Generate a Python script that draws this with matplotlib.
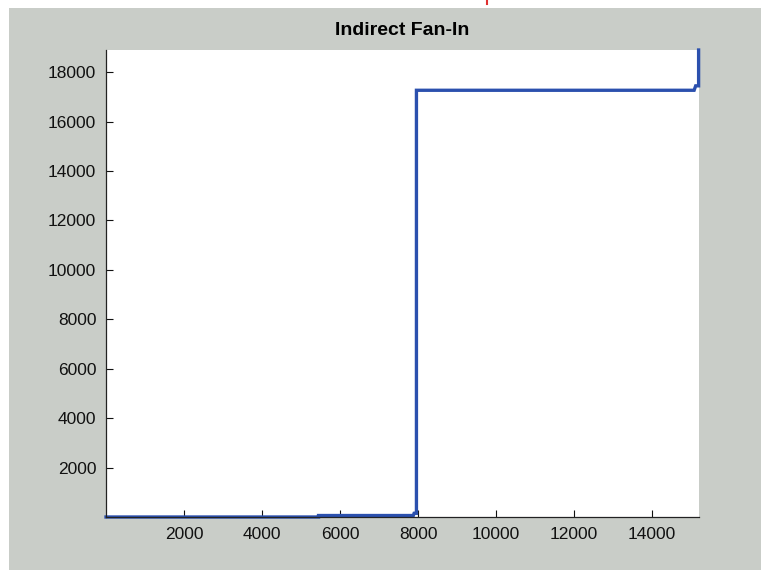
import matplotlib
matplotlib.use("Agg")
import matplotlib.pyplot as plt
from matplotlib.patches import Rectangle
import numpy as np

plt.rcParams['font.family'] = ['Liberation Sans', 'DejaVu Sans']

# Step breakpoints of the sorted indirect fan-in curve (x = rank, y = fan-in)
rank = [0, 5450, 5450, 7880, 7900, 7960, 7960, 15080, 15120, 15195, 15195]
fan_in = [0, 0, 60, 60, 150, 150, 17270, 17270, 17450, 17450, 18900]

xticks = [2000, 4000, 6000, 8000, 10000, 12000, 14000]
yticks = [2000, 4000, 6000, 8000, 10000, 12000, 14000, 16000, 18000]
title = "Indirect Fan-In"

W, H = 761, 570
fig = plt.figure(figsize=(W / 100, H / 100), dpi=100, facecolor='white')
gray = '#c9cdc8'
fig.patches.append(Rectangle((9 / W, 0), 1 - 9 / W, 1 - 8 / H, transform=fig.transFigure,
                             facecolor=gray, edgecolor='none', zorder=-10))
fig.lines.append(plt.Line2D([487 / W, 487 / W], [1 - 0 / H, 1 - 4 / H], transform=fig.transFigure,
                            color='#e03030', lw=1.5))

left, right, top, bottom = 106, 699, 50, 517
ax = fig.add_axes([left / W, 1 - bottom / H, (right - left) / W, (bottom - top) / H])
ax.set_facecolor('white')
ax.plot(rank, fan_in, color='#2b50ae', lw=2.4, solid_joinstyle='miter', clip_on=False)
ax.set_xlim(0, 15205)
ax.set_ylim(0, 18900)
ax.set_xticks(xticks)
ax.set_yticks(yticks)
ax.tick_params(direction='in', length=5, width=0.8, labelsize=12.5, colors='#111111', pad=7)
for s in ['top', 'right']:
    ax.spines[s].set_visible(False)
for s in ['left', 'bottom']:
    ax.spines[s].set_color('#222222')
    ax.spines[s].set_linewidth(0.9)
ax.set_title(title, fontsize=14, fontweight='bold', pad=11)

fig.savefig('out.png', dpi=100, facecolor=fig.get_facecolor())
